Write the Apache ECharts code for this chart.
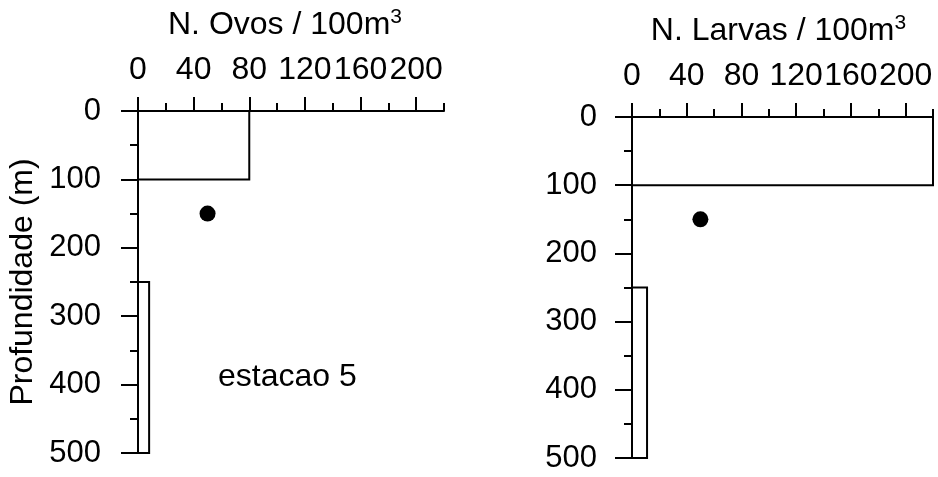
<!DOCTYPE html>
<html><head><meta charset="utf-8">
<script src="https://cdn.jsdelivr.net/npm/echarts@6/dist/echarts.min.js"></script>
<style>html,body{margin:0;padding:0;background:#fff}#c{width:938px;height:477px}</style>
</head><body><div id="c"></div>
<script>
// ---- data ----
const depthRanges = [[0, 100], [250, 500]];
const ovos = [80, 8];
const larvas = [220, 11];
const dotDepth = [150];
const dotOvos = [50];
const dotLarvas = [50];
const xMajorTicks = [0, 40, 80, 120, 160, 200];
const xMinorTicks = [20, 60, 100, 140, 180, 220];
const yMajorTicks = [0, 100, 200, 300, 400, 500];
const yMinorTicks = [50, 150, 250, 350, 450];
const xTitles = ['N. Ovos / 100m{s|3}', 'N. Larvas / 100m{s|3}'];
const yTitle = 'Profundidade (m)';
const note = 'estacao 5';

const FONT = '"Liberation Sans", Arial, Helvetica, sans-serif';
const BLACK = '#000';

const chart = echarts.init(document.getElementById('c'), null, {renderer: 'canvas'});

const grids = [
  {left: 138, top: 111, width: 306, height: 342},
  {left: 632, top: 117, width: 301, height: 341}
];

const xAxes = [], yAxes = [];
[0, 1].forEach(g => {
  xAxes.push({
    gridIndex: g, type: 'value', position: 'top', min: 0, max: 220, interval: 20,
    name: xTitles[g], nameLocation: 'middle', nameGap: 68,
    nameTextStyle: {fontFamily: FONT, fontSize: 32, color: BLACK, lineHeight: 36,
      padding: [0, g === 0 ? 12 : 8, 0, 0],
      rich: {s: {fontFamily: FONT, fontSize: 21, color: BLACK, verticalAlign: 'top', lineHeight: 22}}},
    axisLine: {show: true, lineStyle: {color: BLACK, width: 2}},
    axisTick: {show: true, length: 14, customValues: xMajorTicks, lineStyle: {color: BLACK, width: 2}},
    axisLabel: {show: true, customValues: xMajorTicks, margin: 25, fontFamily: FONT, fontSize: 32, color: BLACK},
    splitLine: {show: false}
  });
  xAxes.push({
    gridIndex: g, type: 'value', position: 'top', min: 0, max: 220, interval: 20,
    axisLine: {show: false},
    axisTick: {show: true, length: 8, customValues: xMinorTicks, lineStyle: {color: BLACK, width: 2}},
    axisLabel: {show: false},
    splitLine: {show: false}
  });
  yAxes.push({
    gridIndex: g, type: 'value', position: 'left', inverse: true, min: 0, max: 500, interval: 50,
    name: g === 0 ? yTitle : '', nameLocation: 'middle', nameGap: 99,
    nameTextStyle: {fontFamily: FONT, fontSize: 32, color: BLACK},
    axisLine: {show: true, lineStyle: {color: BLACK, width: 2}},
    axisTick: {show: true, length: 17, customValues: yMajorTicks, lineStyle: {color: BLACK, width: 2}},
    axisLabel: {show: true, customValues: yMajorTicks, margin: g === 0 ? 37 : 35, fontFamily: FONT, fontSize: 31, color: BLACK},
    splitLine: {show: false}
  });
  yAxes.push({
    gridIndex: g, type: 'value', position: 'left', inverse: true, min: 0, max: 500, interval: 50,
    axisLine: {show: false},
    axisTick: {show: true, length: 8, customValues: yMinorTicks, lineStyle: {color: BLACK, width: 2}},
    axisLabel: {show: false},
    splitLine: {show: false}
  });
});

function renderBar(params, api) {
  const p0 = api.coord([0, api.value(1)]);
  const p1 = api.coord([api.value(0), api.value(2)]);
  return {
    type: 'rect',
    shape: {x: p0[0], y: p0[1], width: p1[0] - p0[0], height: p1[1] - p0[1]},
    style: {fill: '#fff', stroke: BLACK, lineWidth: 2}
  };
}

const valuesByPanel = [ovos, larvas];
const dotsByPanel = [dotOvos, dotLarvas];
const series = [];
[0, 1].forEach(g => {
  series.push({
    type: 'custom', xAxisIndex: g * 2, yAxisIndex: g * 2, clip: false,
    renderItem: renderBar,
    encode: {x: 0, y: [1, 2]},
    data: depthRanges.map((r, i) => [valuesByPanel[g][i], r[0], r[1]])
  });
  series.push({
    type: 'scatter', xAxisIndex: g * 2, yAxisIndex: g * 2,
    symbol: 'circle', symbolSize: 16, itemStyle: {color: BLACK, opacity: 1},
    data: dotDepth.map((d, i) => [dotsByPanel[g][i], d])
  });
});

chart.setOption({
  animation: false,
  backgroundColor: '#fff',
  grid: grids,
  xAxis: xAxes,
  yAxis: yAxes,
  series: series,
  graphic: [{
    type: 'text', left: 218, top: 361,
    style: {text: note, fontFamily: FONT, fontSize: 32, fill: BLACK}
  }]
});
</script>
</body></html>
